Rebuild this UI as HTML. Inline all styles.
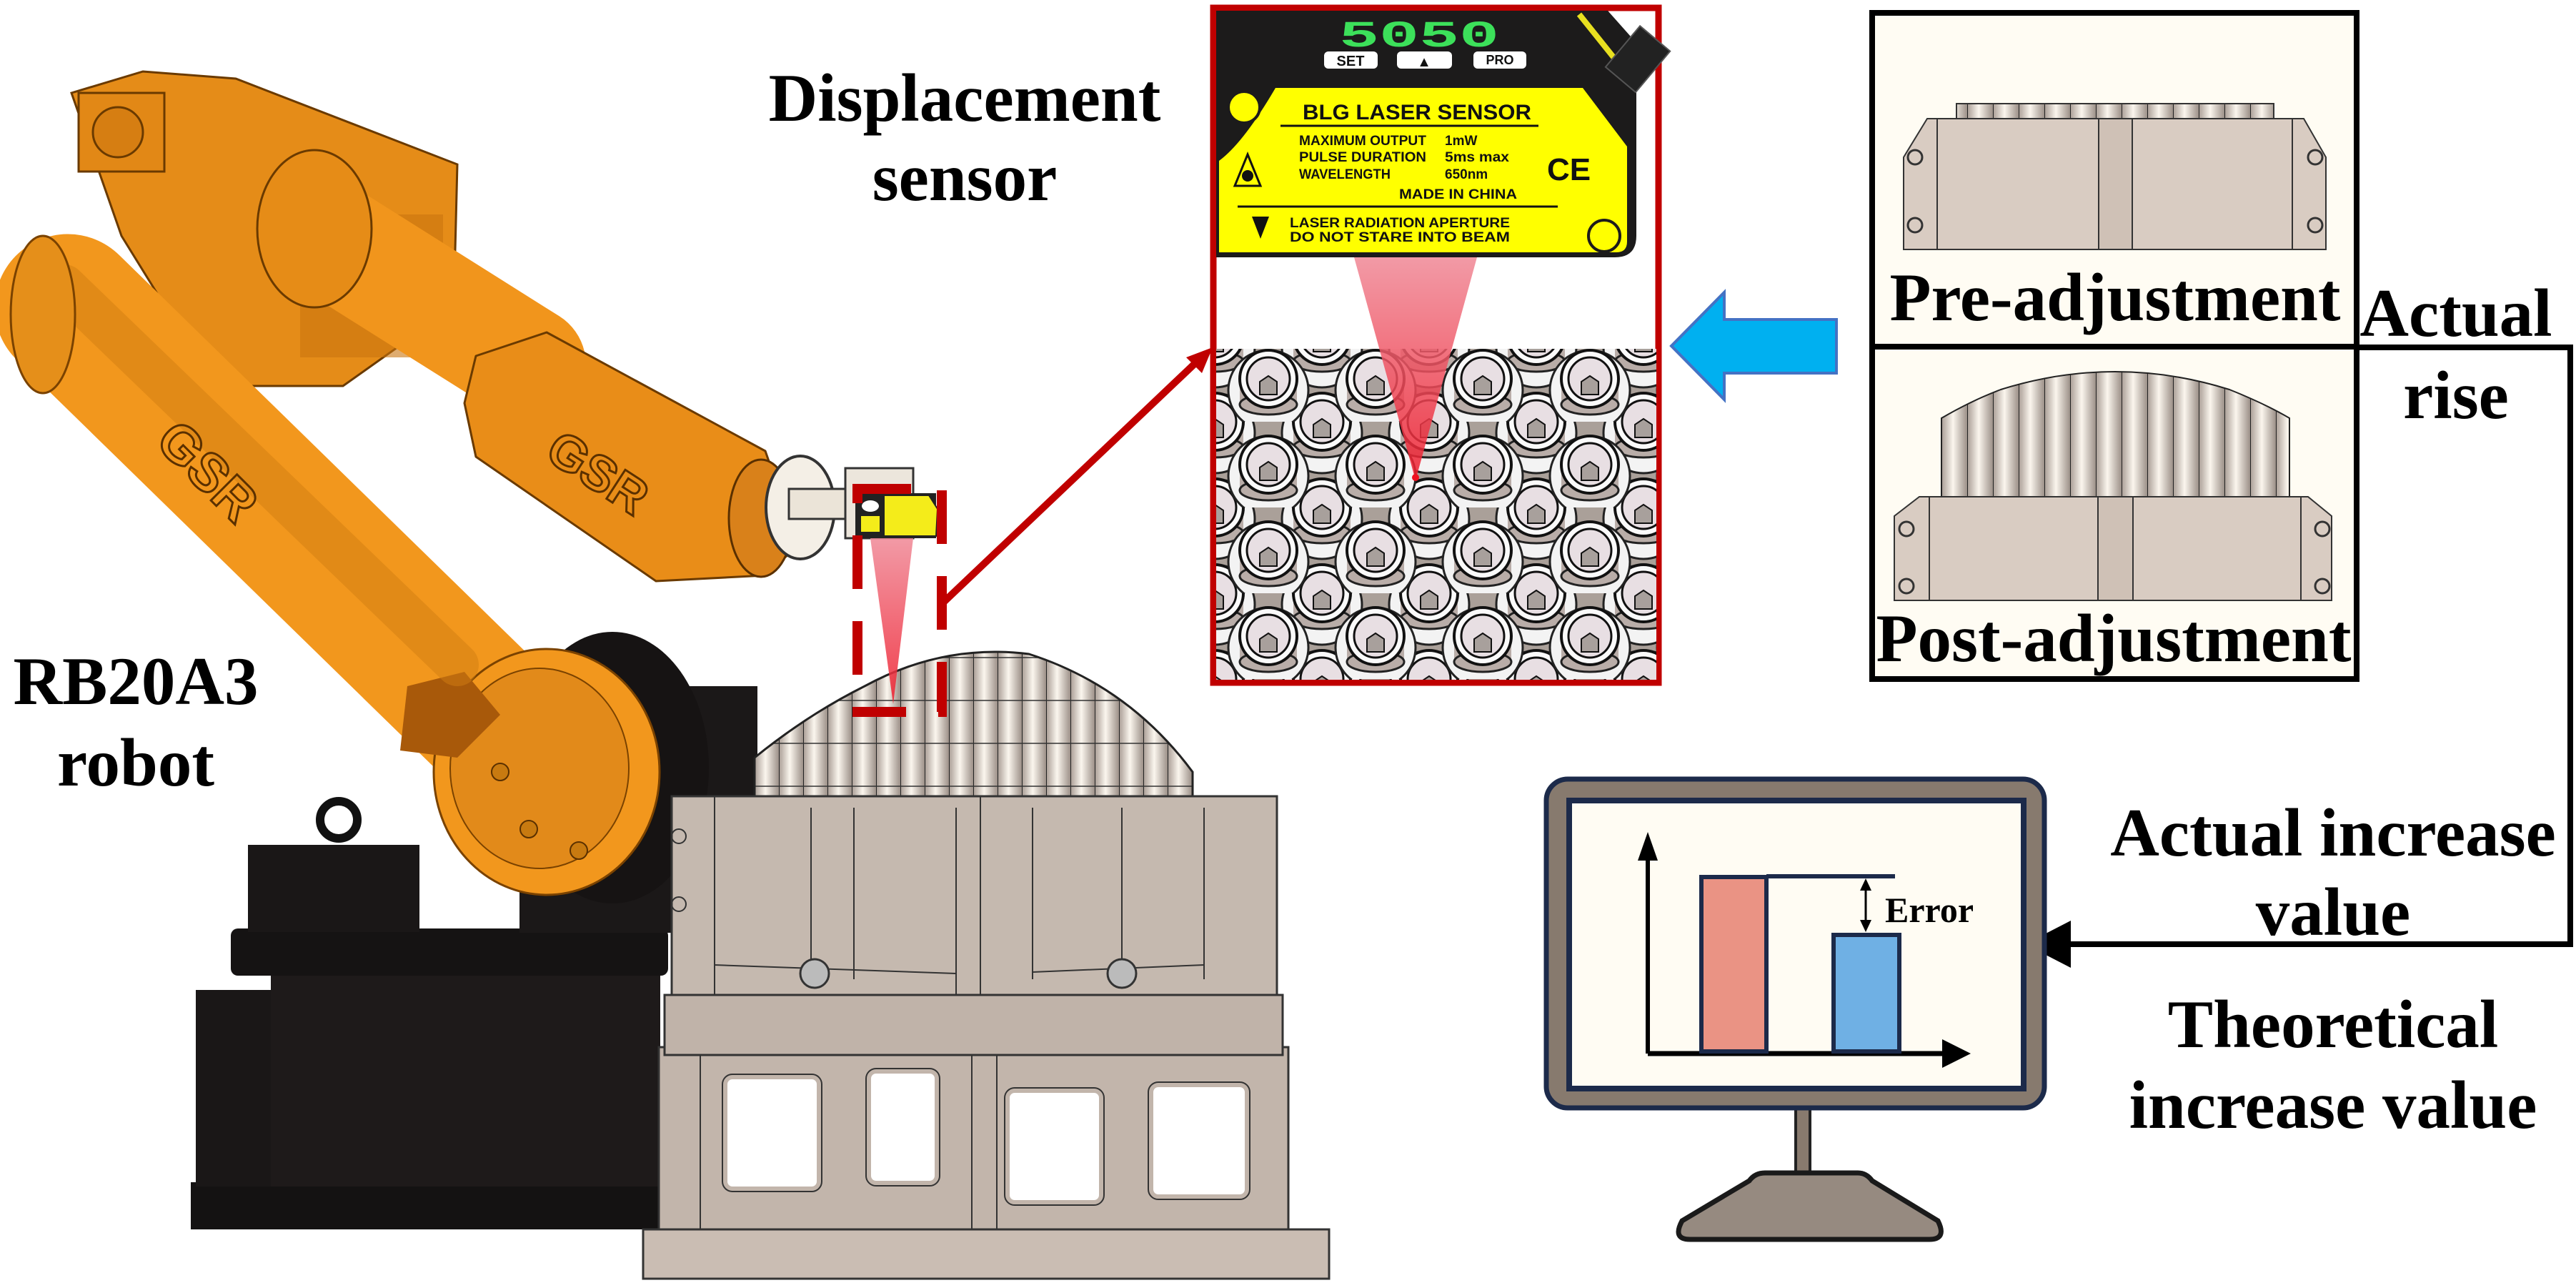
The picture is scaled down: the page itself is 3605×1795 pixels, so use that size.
<!DOCTYPE html>
<html><head><meta charset="utf-8"><style>
html,body{margin:0;padding:0;background:#fff;}
svg{display:block;}
.lb{font-family:"Liberation Serif",serif;font-weight:bold;font-size:95px;fill:#000;}
.sm{font-family:"Liberation Sans",sans-serif;font-weight:bold;fill:#111;}
</style></head><body>
<svg width="3605" height="1795" viewBox="0 0 3605 1795" xmlns="http://www.w3.org/2000/svg">
<defs>
<linearGradient id="cyl" x1="0" x2="1" y1="0" y2="0">
<stop offset="0" stop-color="#a89c94"/><stop offset="0.45" stop-color="#fbf6ee"/><stop offset="1" stop-color="#9c9088"/>
</linearGradient>
<pattern id="cylp" x="1056" y="0" width="34" height="60" patternUnits="userSpaceOnUse">
<rect width="34" height="60" fill="url(#cyl)"/><line x1="0" y1="0" x2="0" y2="60" stroke="#222" stroke-width="2"/>
<line x1="0" y1="20" x2="34" y2="20" stroke="#333" stroke-width="1.5"/>
</pattern>
<pattern id="cylp2" x="2717" y="0" width="36" height="50" patternUnits="userSpaceOnUse">
<rect width="36" height="50" fill="url(#cyl)"/><line x1="0" y1="0" x2="0" y2="50" stroke="#222" stroke-width="2"/>
</pattern>
<linearGradient id="beam" x1="0" x2="0" y1="0" y2="1">
<stop offset="0" stop-color="#f08896"/><stop offset="1" stop-color="#ee1c2c"/>
</linearGradient>
<pattern id="cells" x="1700" y="470" width="150" height="120" patternUnits="userSpaceOnUse">
<rect width="150" height="120" fill="#aaa099"/>
<g id="cell0">
<circle cx="0" cy="16" r="56" fill="#f3f3f3" stroke="#222" stroke-width="3"/>
<rect x="-40" y="0" width="80" height="36" fill="#b9ada8"/>
<ellipse cx="0" cy="36" rx="40" ry="14" fill="#b9ada8" stroke="#222" stroke-width="3"/>
<circle cx="0" cy="0" r="40" fill="#fafafa" stroke="#111" stroke-width="4"/>
<circle cx="0" cy="0" r="30" fill="#e8dfe3" stroke="#111" stroke-width="3"/>
<path d="M-12,22 L-12,4 L0,-4 L12,4 L12,22 Z" fill="#a8a09c" stroke="#111" stroke-width="2"/>
</g>
<use href="#cell0" x="150" y="0"/><use href="#cell0" x="0" y="120"/><use href="#cell0" x="150" y="120"/>
<use href="#cell0" x="75" y="60"/>
</pattern>
<clipPath id="cellclip"><rect x="1702" y="488" width="616" height="463"/></clipPath>
</defs>

<!-- ============ ROBOT ============ -->
<!-- black base -->
<rect x="267" y="1654" width="655" height="66" fill="#141212"/>
<rect x="274" y="1385" width="110" height="275" fill="#1a1717"/>
<rect x="379" y="1350" width="545" height="310" fill="#1e1a1a"/>
<rect x="323" y="1299" width="612" height="66" rx="10" fill="#151313"/>
<rect x="347" y="1182" width="240" height="122" fill="#1a1717"/>
<circle cx="474" cy="1147" r="26" fill="none" stroke="#111" stroke-width="12"/>
<rect x="727" y="960" width="333" height="345" fill="#1b1818"/>
<ellipse cx="857" cy="1074" rx="135" ry="190" fill="#161313"/>

<!-- shoulder housing -->
<polygon points="100,130 200,100 330,110 640,230 635,430 480,540 300,540 170,330" fill="#e58c18" stroke="#6a3a00" stroke-width="3"/>
<rect x="110" y="130" width="120" height="110" fill="#e28816" stroke="#6a3a00" stroke-width="3"/>
<circle cx="165" cy="185" r="35" fill="#d67e12" stroke="#6a3a00" stroke-width="3"/>
<rect x="420" y="300" width="200" height="200" fill="#c9750f" opacity="0.6"/>
<!-- forearm tube -->
<line x1="470" y1="340" x2="740" y2="510" stroke="#f1951c" stroke-width="160" stroke-linecap="round"/>
<ellipse cx="440" cy="320" rx="80" ry="110" fill="#e68c17" stroke="#6a3a00" stroke-width="3"/>
<!-- wrist housing -->
<polygon points="666,498 765,465 1071,631 1117,763 1071,805 918,813 666,639 650,564" fill="#e98d18" stroke="#6a3a00" stroke-width="3" stroke-linejoin="round"/>
<ellipse cx="1065" cy="725" rx="45" ry="82" fill="#d9811a" stroke="#5a3000" stroke-width="3"/>
<text x="760" y="640" class="sm" font-size="70" fill="#8a4a00" transform="rotate(33 760 640)" style="fill:none;stroke:#5a3000;stroke-width:3">GSR</text>
<!-- flange & tool -->
<ellipse cx="1120" cy="710" rx="48" ry="72" fill="#f4efe6" stroke="#333" stroke-width="4"/>
<rect x="1104" y="684" width="80" height="42" fill="#ebe4d8" stroke="#333" stroke-width="3"/>
<rect x="1183" y="655" width="95" height="98" fill="#ece6dc" stroke="#333" stroke-width="3"/>
<rect x="1197" y="690" width="113" height="63" fill="#222" />
<polygon points="1237,693 1300,693 1312,712 1310,750 1237,750" fill="#f4ec1a" stroke="#222" stroke-width="2"/>
<rect x="1205" y="722" width="26" height="22" fill="#f4ec1a"/>
<ellipse cx="1218" cy="708" rx="12" ry="8" fill="#fff"/>

<!-- lower link -->
<line x1="95" y1="430" x2="720" y2="1040" stroke="#f2971d" stroke-width="205" stroke-linecap="round"/>
<ellipse cx="765" cy="1080" rx="158" ry="172" fill="#f2971d" stroke="#7a4200" stroke-width="3"/>
<ellipse cx="755" cy="1075" rx="125" ry="140" fill="#e28a1a" stroke="#7a4200" stroke-width="2"/>
<polygon points="570,960 650,940 700,1000 640,1060 560,1050" fill="#a8590a"/>
<line x1="90" y1="400" x2="640" y2="930" stroke="#d27e12" stroke-width="60" stroke-linecap="round" opacity="0.5"/>
<ellipse cx="60" cy="440" rx="45" ry="110" fill="#e58f1a" stroke="#7a4200" stroke-width="3"/>
<text x="215" y="620" class="sm" font-size="75" transform="rotate(45 215 620)" style="fill:none;stroke:#5a3000;stroke-width:3">GSR</text>
<circle cx="700" cy="1080" r="12" fill="#c87a10" stroke="#5a3000" stroke-width="2"/>
<circle cx="740" cy="1160" r="12" fill="#c87a10" stroke="#5a3000" stroke-width="2"/>
<circle cx="810" cy="1190" r="12" fill="#c87a10" stroke="#5a3000" stroke-width="2"/>

<!-- ============ FIXTURE ============ -->
<polygon points="900,1720 1860,1720 1860,1789 900,1789" fill="#cabdb3" stroke="#333" stroke-width="3"/>
<rect x="922" y="1465" width="881" height="255" fill="#c2b5ab" stroke="#333" stroke-width="3"/>
<line x1="980" y1="1465" x2="980" y2="1720" stroke="#333" stroke-width="2"/>
<line x1="1360" y1="1465" x2="1360" y2="1720" stroke="#333" stroke-width="2"/>
<line x1="1395" y1="1465" x2="1395" y2="1720" stroke="#333" stroke-width="2"/>
<rect x="1015" y="1507" width="131" height="156" rx="10" fill="#fff" stroke="#333" stroke-width="10"/>
<rect x="1216" y="1499" width="95" height="156" rx="10" fill="#fff" stroke="#333" stroke-width="10"/>
<rect x="1410" y="1526" width="131" height="156" rx="10" fill="#fff" stroke="#333" stroke-width="10"/>
<rect x="1611" y="1518" width="134" height="156" rx="10" fill="#fff" stroke="#333" stroke-width="10"/>
<rect x="1015" y="1507" width="131" height="156" rx="10" fill="#fff" stroke="#c2b5ab" stroke-width="6"/>
<rect x="1216" y="1499" width="95" height="156" rx="10" fill="#fff" stroke="#c2b5ab" stroke-width="6"/>
<rect x="1410" y="1526" width="131" height="156" rx="10" fill="#fff" stroke="#c2b5ab" stroke-width="6"/>
<rect x="1611" y="1518" width="134" height="156" rx="10" fill="#fff" stroke="#c2b5ab" stroke-width="6"/>
<rect x="930" y="1392" width="865" height="84" fill="#c0b3a9" stroke="#333" stroke-width="3"/>
<!-- cylinders dome -->
<path d="M1056,1118 L1056,1060 Q1130,1000 1210,960 Q1320,900 1440,915 Q1580,960 1669,1080 L1669,1118 Z" fill="url(#cylp)" stroke="#222" stroke-width="3"/>
<rect x="940" y="1114" width="847" height="278" fill="#c5b9af" stroke="#333" stroke-width="3"/>
<line x1="1000" y1="1114" x2="1000" y2="1392" stroke="#333" stroke-width="2"/>
<line x1="1135" y1="1130" x2="1135" y2="1370" stroke="#333" stroke-width="2"/>
<line x1="1195" y1="1130" x2="1195" y2="1370" stroke="#333" stroke-width="2"/>
<line x1="1338" y1="1130" x2="1338" y2="1392" stroke="#333" stroke-width="2"/>
<line x1="1372" y1="1114" x2="1372" y2="1392" stroke="#333" stroke-width="2"/>
<line x1="1445" y1="1130" x2="1445" y2="1370" stroke="#333" stroke-width="2"/>
<line x1="1570" y1="1130" x2="1570" y2="1370" stroke="#333" stroke-width="2"/>
<line x1="1685" y1="1130" x2="1685" y2="1370" stroke="#333" stroke-width="2"/>
<line x1="1000" y1="1350" x2="1338" y2="1362" stroke="#333" stroke-width="2"/>
<line x1="1445" y1="1360" x2="1685" y2="1350" stroke="#333" stroke-width="2"/>
<circle cx="1140" cy="1362" r="20" fill="#bbb" stroke="#333" stroke-width="3"/>
<circle cx="1570" cy="1362" r="20" fill="#bbb" stroke="#333" stroke-width="3"/>
<circle cx="950" cy="1170" r="10" fill="none" stroke="#333" stroke-width="2"/>
<circle cx="950" cy="1265" r="10" fill="none" stroke="#333" stroke-width="2"/>

<!-- sensor beam + dashed box -->
<polygon points="1218,753 1278,753 1250,985" fill="url(#beam)" opacity="0.85"/>
<rect x="1200" y="684" width="118" height="312" fill="none" stroke="#c00000" stroke-width="14" stroke-dasharray="75 45"/>
<line x1="1321" y1="842" x2="1676" y2="505" stroke="#c00000" stroke-width="10"/>
<polygon points="1697,486 1660,500 1682,522" fill="#c00000"/>

<!-- ============ SENSOR PANEL ============ -->
<rect x="1698" y="11" width="623" height="944" fill="#fff" stroke="#c00000" stroke-width="9"/>
<rect x="1702" y="488" width="616" height="463" fill="url(#cells)" clip-path="url(#cellclip)"/>
<path d="M1702,15 L2250,15 L2290,60 L2290,330 Q2290,360 2260,360 L1702,360 Z" fill="#1c1b1b"/>
<line x1="2210" y1="20" x2="2290" y2="120" stroke="#e8e020" stroke-width="8"/>
<rect x="2265" y="45" width="55" height="75" fill="#222" stroke="#555" stroke-width="2" transform="rotate(40 2292 82)"/>
<text x="1874" y="65" font-family="Liberation Mono,monospace" font-weight="bold" font-size="52" fill="#3ce05a" textLength="224" lengthAdjust="spacingAndGlyphs">5050</text>
<rect x="1853" y="72" width="75" height="24" rx="6" fill="#fff"/>
<rect x="1955" y="72" width="77" height="24" rx="6" fill="#fff"/>
<rect x="2062" y="72" width="74" height="24" rx="6" fill="#fff"/>
<text x="1890" y="92" text-anchor="middle" class="sm" font-size="20">SET</text>
<text x="1993" y="93" text-anchor="middle" class="sm" font-size="20">▲</text>
<text x="2099" y="90" text-anchor="middle" class="sm" font-size="18">PRO</text>
<path d="M1785,123 L2215,123 L2277,205 L2277,338 Q2277,353 2262,353 L1706,353 L1706,225 Q1740,200 1785,123 Z" fill="#ffff00"/>
<circle cx="1741" cy="150" r="22" fill="#ffff00" stroke="#1c1b1b" stroke-width="4"/>
<circle cx="2245" cy="330" r="22" fill="#ffff00" stroke="#1c1b1b" stroke-width="4"/>
<text x="1823" y="167" class="sm" font-size="30" textLength="320" lengthAdjust="spacingAndGlyphs">BLG  LASER  SENSOR</text>
<line x1="1792" y1="176" x2="2153" y2="176" stroke="#111" stroke-width="3"/>
<text x="1818" y="203" class="sm" font-size="19" textLength="178" lengthAdjust="spacingAndGlyphs">MAXIMUM OUTPUT</text>
<text x="2022" y="203" class="sm" font-size="19">1mW</text>
<text x="1818" y="226" class="sm" font-size="19" textLength="178" lengthAdjust="spacingAndGlyphs">PULSE DURATION</text>
<text x="2022" y="226" class="sm" font-size="19" textLength="90" lengthAdjust="spacingAndGlyphs">5ms max</text>
<text x="1818" y="250" class="sm" font-size="19" textLength="128" lengthAdjust="spacingAndGlyphs">WAVELENGTH</text>
<text x="2022" y="250" class="sm" font-size="19">650nm</text>
<text x="1958" y="278" class="sm" font-size="19" textLength="165" lengthAdjust="spacingAndGlyphs">MADE IN CHINA</text>
<polygon points="1728,260 1764,260 1746,216" fill="none" stroke="#111" stroke-width="3"/>
<circle cx="1746" cy="246" r="8" fill="#111"/>
<text x="2165" y="252" class="sm" font-size="44" font-family="Liberation Sans">CE</text>
<line x1="1732" y1="289" x2="2180" y2="289" stroke="#111" stroke-width="3"/>
<polygon points="1752,303 1776,303 1764,334" fill="#111"/>
<text x="1805" y="318" class="sm" font-size="19" textLength="308" lengthAdjust="spacingAndGlyphs">LASER RADIATION APERTURE</text>
<text x="1805" y="338" class="sm" font-size="19" textLength="308" lengthAdjust="spacingAndGlyphs">DO NOT STARE INTO BEAM</text>
<polygon points="1895,360 2067,360 1981,672" fill="url(#beam)" opacity="0.85"/>
<circle cx="1981" cy="668" r="5" fill="#ee1020"/>

<!-- blue arrow -->
<polygon points="2339,484 2413,409 2413,447 2570,447 2570,522 2413,522 2413,559" fill="#00b0f0" stroke="#4472c4" stroke-width="4"/>

<!-- ============ PRE / POST BOX ============ -->
<rect x="2620" y="18" width="678" height="932" fill="#fffcf3" stroke="#000" stroke-width="8"/>
<line x1="2620" y1="485" x2="3298" y2="485" stroke="#000" stroke-width="8"/>
<!-- pre image -->
<rect x="2738" y="145" width="444" height="21" fill="url(#cylp2)" stroke="#333" stroke-width="2"/>
<polygon points="2697,166 3224,166 3255,220 3255,349 2664,349 2664,220" fill="#d9ccc2" stroke="#333" stroke-width="2"/>
<line x1="2711" y1="166" x2="2711" y2="349" stroke="#333" stroke-width="2"/>
<line x1="3208" y1="166" x2="3208" y2="349" stroke="#333" stroke-width="2"/>
<rect x="2937" y="166" width="47" height="183" fill="#cfc1b6" stroke="#333" stroke-width="2"/>
<circle cx="2680" cy="220" r="10" fill="none" stroke="#333" stroke-width="3"/>
<circle cx="2680" cy="315" r="10" fill="none" stroke="#333" stroke-width="3"/>
<circle cx="3240" cy="220" r="10" fill="none" stroke="#333" stroke-width="3"/>
<circle cx="3240" cy="315" r="10" fill="none" stroke="#333" stroke-width="3"/>
<text x="2960" y="448" text-anchor="middle" class="lb" textLength="631" lengthAdjust="spacingAndGlyphs">Pre-adjustment</text>
<!-- post image -->
<path d="M2717,697 L2717,585 Q2760,560 2800,545 Q2960,495 3120,545 Q3170,565 3204,585 L3204,697 Z" fill="url(#cylp2)" stroke="#222" stroke-width="2"/>
<polygon points="2686,695 3230,695 3263,722 3263,840 2651,840 2651,722" fill="#d9ccc2" stroke="#333" stroke-width="2"/>
<line x1="2700" y1="695" x2="2700" y2="840" stroke="#333" stroke-width="2"/>
<line x1="3220" y1="695" x2="3220" y2="840" stroke="#333" stroke-width="2"/>
<rect x="2936" y="695" width="49" height="145" fill="#cfc1b6" stroke="#333" stroke-width="2"/>
<circle cx="2668" cy="740" r="10" fill="none" stroke="#333" stroke-width="3"/>
<circle cx="2668" cy="820" r="10" fill="none" stroke="#333" stroke-width="3"/>
<circle cx="3250" cy="740" r="10" fill="none" stroke="#333" stroke-width="3"/>
<circle cx="3250" cy="820" r="10" fill="none" stroke="#333" stroke-width="3"/>
<text x="2958" y="925" text-anchor="middle" class="lb" textLength="665" lengthAdjust="spacingAndGlyphs">Post-adjustment</text>

<!-- connector -->
<polyline points="3298,486 3597,486 3597,1321 2895,1321" fill="none" stroke="#000" stroke-width="8"/>
<polygon points="2834,1321 2898,1288 2898,1354" fill="#000"/>
<text x="3437" y="470" text-anchor="middle" class="lb">Actual</text>
<text x="3437" y="585" text-anchor="middle" class="lb">rise</text>
<text x="3265" y="1197" text-anchor="middle" class="lb">Actual increase</text>
<text x="3265" y="1308" text-anchor="middle" class="lb">value</text>
<text x="3265" y="1465" text-anchor="middle" class="lb">Theoretical</text>
<text x="3265" y="1578" text-anchor="middle" class="lb">increase value</text>

<!-- ============ MONITOR ============ -->
<rect x="2513" y="1550" width="20" height="95" fill="#887a6e" stroke="#222" stroke-width="4"/>
<path d="M2470,1641 L2600,1641 Q2612,1641 2620,1652 L2712,1708 Q2725,1734 2700,1734 L2365,1734 Q2340,1734 2354,1708 L2448,1652 Q2456,1641 2470,1641 Z" fill="#968a80" stroke="#1a1a1a" stroke-width="7"/>
<rect x="2164" y="1090" width="697" height="460" rx="30" fill="#877a6e" stroke="#1c2a4a" stroke-width="7"/>
<rect x="2196" y="1120" width="636" height="403" fill="#fffcf3" stroke="#1c2a4a" stroke-width="8"/>
<line x1="2306" y1="1474" x2="2306" y2="1200" stroke="#000" stroke-width="6"/>
<polygon points="2306,1164 2292,1204 2320,1204" fill="#000"/>
<line x1="2306" y1="1474" x2="2722" y2="1474" stroke="#000" stroke-width="7"/>
<polygon points="2758,1474 2718,1454 2718,1494" fill="#000"/>
<rect x="2381" y="1227" width="91" height="244" fill="#ea9384" stroke="#1c2a4a" stroke-width="6"/>
<line x1="2472" y1="1226" x2="2652" y2="1226" stroke="#1c2a4a" stroke-width="6"/>
<rect x="2566" y="1308" width="92" height="163" fill="#6fb0e4" stroke="#1c2a4a" stroke-width="6"/>
<line x1="2611" y1="1240" x2="2611" y2="1290" stroke="#000" stroke-width="3"/>
<polygon points="2611,1229 2603,1246 2619,1246" fill="#000"/>
<polygon points="2611,1304 2603,1287 2619,1287" fill="#000"/>
<text x="2638" y="1290" font-family="Liberation Serif,serif" font-weight="bold" font-size="50" fill="#000">Error</text>

<!-- ============ LABELS ============ -->
<text x="1350" y="169" text-anchor="middle" class="lb">Displacement</text>
<text x="1350" y="280" text-anchor="middle" class="lb">sensor</text>
<text x="190" y="985" text-anchor="middle" class="lb">RB20A3</text>
<text x="190" y="1099" text-anchor="middle" class="lb">robot</text>
</svg>
</body></html>
